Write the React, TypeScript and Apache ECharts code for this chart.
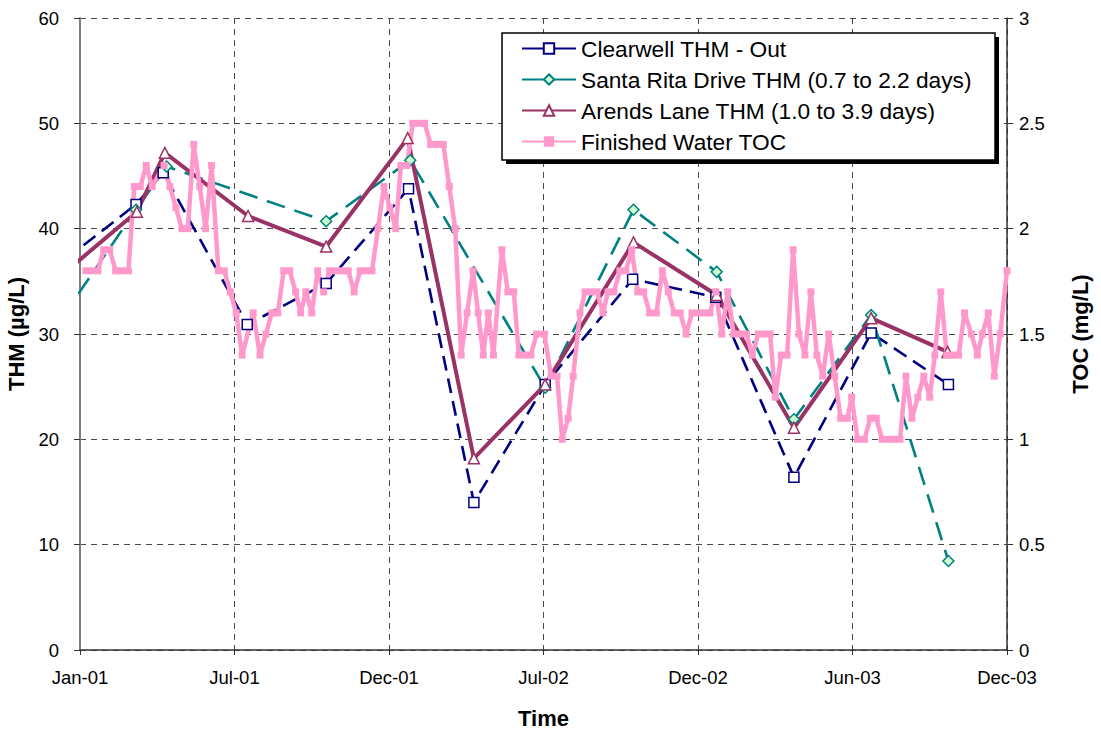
import React, { useEffect, useRef } from "react";
import * as echarts from "echarts";

// ---------- data ----------
// x values are days since 1 Jan 2001
const START_UTC = Date.UTC(2001, 0, 1);
const DAY_MS = 86400000;
const MONTHS = ["Jan", "Feb", "Mar", "Apr", "May", "Jun", "Jul", "Aug", "Sep", "Oct", "Nov", "Dec"];
const xAxisMaxDay = 1092;
const xAxisStepDays = 182;

const clearwellDays = [-60, 66, 98, 197, 290, 387, 464, 548, 651, 749, 841, 932, 1023];
const clearwellTHM = [34.4, 42.3, 45.3, 30.9, 34.8, 43.8, 14.0, 25.2, 35.2, 33.5, 16.4, 30.1, 25.2];

const santaRitaDays = [-60, 66, 102, 290, 389, 548, 652, 750, 841, 932, 1023];
const santaRitaTHM = [27.0, 41.8, 45.9, 40.7, 46.5, 24.9, 41.8, 35.9, 21.9, 31.8, 8.45];

const arendsDays = [-60, 67, 100, 198, 290, 386, 464, 548, 652, 750, 841, 932, 1022];
const arendsTHM = [33.0, 41.6, 47.2, 41.2, 38.3, 48.6, 18.2, 25.2, 38.7, 33.7, 21.1, 31.5, 28.3];

const tocDays = [
  7, 14, 21, 28, 35, 42, 49, 57, 64, 71,
  78, 85, 99, 106, 113, 120, 127, 134, 141, 148,
  155, 163, 170, 177, 184, 191, 204, 212, 219, 226,
  233, 240, 247, 254, 260, 266, 273, 280, 287, 294,
  302, 309, 316, 323, 330, 337, 344, 351, 358, 365,
  372, 378, 385, 392, 399, 406, 413, 421, 428, 435,
  442, 449, 456, 463, 469, 475, 481, 487, 497, 504,
  511, 517, 524, 531, 538, 547, 555, 562, 568, 575,
  581, 589, 595, 602, 609, 616, 622, 629, 636, 643,
  650, 657, 664, 671, 679, 686, 693, 700, 707, 714,
  721, 728, 735, 742, 749, 756, 763, 770, 777, 785,
  792, 799, 806, 813, 819, 826, 833, 840, 847, 854,
  861, 868, 875, 882, 889, 896, 904, 909, 916, 924,
  931, 938, 945, 952, 959, 966, 973, 980, 987, 994,
  1001, 1007, 1014, 1021, 1028, 1035, 1042, 1050, 1057, 1063,
  1070, 1077, 1084, 1092,
];
const tocValues = [
  1.8, 1.8, 1.8, 1.9, 1.9, 1.8, 1.8, 1.8, 2.2, 2.2,
  2.3, 2.2, 2.3, 2.2, 2.1, 2.0, 2.0, 2.4, 2.2, 2.0,
  2.3, 1.8, 1.8, 1.7, 1.6, 1.4, 1.6, 1.4, 1.5, 1.6,
  1.6, 1.8, 1.8, 1.7, 1.6, 1.7, 1.6, 1.8, 1.7, 1.8,
  1.8, 1.8, 1.8, 1.7, 1.8, 1.8, 1.8, 2.0, 2.2, 2.1,
  2.0, 2.3, 2.3, 2.5, 2.5, 2.5, 2.4, 2.4, 2.4, 2.2,
  2.0, 1.4, 1.6, 1.8, 1.6, 1.4, 1.6, 1.4, 1.9, 1.7,
  1.7, 1.4, 1.4, 1.4, 1.5, 1.5, 1.3, 1.3, 1.0, 1.1,
  1.3, 1.6, 1.7, 1.7, 1.7, 1.6, 1.7, 1.7, 1.8, 1.8,
  1.9, 1.7, 1.7, 1.6, 1.6, 1.8, 1.7, 1.6, 1.6, 1.5,
  1.6, 1.6, 1.6, 1.6, 1.7, 1.5, 1.7, 1.5, 1.5, 1.5,
  1.4, 1.5, 1.5, 1.5, 1.2, 1.4, 1.4, 1.9, 1.5, 1.4,
  1.7, 1.4, 1.3, 1.5, 1.3, 1.1, 1.1, 1.2, 1.0, 1.0,
  1.1, 1.1, 1.0, 1.0, 1.0, 1.0, 1.3, 1.1, 1.2, 1.3,
  1.2, 1.4, 1.7, 1.4, 1.4, 1.4, 1.6, 1.5, 1.4, 1.5,
  1.6, 1.3, 1.5, 1.8,
];

const seriesNames = [
  "Clearwell THM - Out",
  "Santa Rita Drive THM (0.7 to 2.2 days)",
  "Arends Lane THM (1.0 to 3.9 days)",
  "Finished Water TOC",
];

// ---------- helpers ----------
const zip = (xs: number[], ys: number[]) => xs.map((x, i) => [x, ys[i]]);
const dayLabel = (v: number) => {
  const d = new Date(START_UTC + v * DAY_MS);
  return `${MONTHS[d.getUTCMonth()]}-${String(d.getUTCFullYear() % 100).padStart(2, "0")}`;
};

const FONT = "'Liberation Sans', Arial, sans-serif";
const gridDash = { color: "#4a4a4a", width: 1, type: [6, 5] as any };

export default function App() {
  const ref = useRef<HTMLDivElement>(null);

  useEffect(() => {
    if (!ref.current) return;
    const chart = echarts.init(ref.current, undefined, { renderer: "svg" });
    const option: any = {
      animation: false,
      backgroundColor: "#ffffff",
      textStyle: { fontFamily: FONT },
      grid: { left: 80, right: 94, top: 18, bottom: 81, containLabel: false, outerBoundsMode: "none" },
      graphic: [
        { type: "rect", z: 3, shape: { x: 506, y: 37, width: 493, height: 127 }, style: { fill: "#000" } },
        { type: "rect", z: 3, shape: { x: 502, y: 33, width: 493, height: 127 }, style: { fill: "#fff", stroke: "#000", lineWidth: 1.5 } },
      ],
      legend: {
        z: 5,
        orient: "vertical",
        left: 503,
        top: 35,
        itemWidth: 54,
        itemHeight: 13,
        itemGap: 8,
        padding: [2, 10, 2, 18],
        data: seriesNames,
        textStyle: { fontSize: 22.7, fontFamily: FONT, color: "#000" },
        lineStyle: { type: "solid" },
      },
      xAxis: {
        type: "value",
        min: 0,
        max: xAxisMaxDay,
        interval: xAxisStepDays,
        name: "Time",
        nameLocation: "middle",
        nameGap: 57,
        nameTextStyle: { fontSize: 22, fontWeight: "bold", color: "#000", fontFamily: FONT },
        axisLine: { show: true, lineStyle: { color: "#333", width: 1.5 } },
        axisTick: { show: true, length: 5, lineStyle: { color: "#333" } },
        axisLabel: {
          formatter: dayLabel,
          fontSize: 18.5,
          color: "#000",
          margin: 18,
          fontFamily: FONT,
          showMinLabel: true,
          showMaxLabel: true,
        },
        splitLine: { show: true, lineStyle: gridDash },
      },
      yAxis: [
        {
          type: "value",
          min: 0,
          max: 60,
          interval: 10,
          position: "left",
          name: "THM (µg/L)",
          nameLocation: "middle",
          nameRotate: 90,
          nameGap: 48,
          nameTextStyle: { fontSize: 22, fontWeight: "bold", color: "#000", fontFamily: FONT },
          axisLine: { show: true, lineStyle: { color: "#808080", width: 2 } },
          axisTick: { show: true, length: 6, lineStyle: { color: "#333" } },
          axisLabel: { fontSize: 18.5, color: "#000", margin: 21, fontFamily: FONT },
          splitLine: { show: true, lineStyle: gridDash },
        },
        {
          type: "value",
          min: 0,
          max: 3,
          interval: 0.5,
          position: "right",
          name: "TOC (mg/L)",
          nameLocation: "middle",
          nameRotate: 90,
          nameGap: 62,
          nameTextStyle: { fontSize: 22, fontWeight: "bold", color: "#000", fontFamily: FONT },
          axisLine: { show: true, lineStyle: { color: "#333", width: 1.5 } },
          axisTick: { show: true, length: 6, lineStyle: { color: "#333" } },
          axisLabel: { fontSize: 18.5, color: "#000", margin: 12, fontFamily: FONT },
          splitLine: { show: false },
        },
      ],
      series: [
        {
          name: seriesNames[0],
          type: "line",
          yAxisIndex: 0,
          data: zip(clearwellDays, clearwellTHM),
          symbol: "rect",
          symbolSize: 10,
          showAllSymbol: true,
          clip: true,
          z: 2,
          lineStyle: { color: "#000080", width: 2.6, type: [15, 8] },
          itemStyle: { color: "#ffffff", borderColor: "#000080", borderWidth: 1.5 },
        },
        {
          name: seriesNames[1],
          type: "line",
          yAxisIndex: 0,
          data: zip(santaRitaDays, santaRitaTHM),
          symbol: "diamond",
          symbolSize: 11,
          showAllSymbol: true,
          clip: true,
          z: 2,
          lineStyle: { color: "#008080", width: 2.6, type: [19, 10] },
          itemStyle: { color: "#CCFFCC", borderColor: "#008080", borderWidth: 1.5 },
        },
        {
          name: seriesNames[2],
          type: "line",
          yAxisIndex: 0,
          data: zip(arendsDays, arendsTHM),
          symbol: "triangle",
          symbolSize: 11,
          showAllSymbol: true,
          clip: true,
          z: 2,
          lineStyle: { color: "#993366", width: 4 },
          itemStyle: { color: "#ffffff", borderColor: "#993366", borderWidth: 1.5 },
        },
        {
          name: seriesNames[3],
          type: "line",
          yAxisIndex: 1,
          data: zip(tocDays, tocValues),
          symbol: "rect",
          symbolSize: 7,
          showAllSymbol: true,
          clip: false,
          z: 2,
          lineStyle: { color: "#FF99CC", width: 4.5 },
          itemStyle: { color: "#FF99CC", borderColor: "#FF99CC", borderWidth: 0 },
        },
      ],
    };
    chart.setOption(option);
    return () => chart.dispose();
  }, []);

  return (
    <div
      ref={ref}
      style={{ position: "fixed", left: 0, top: 0, width: 1101, height: 731, background: "#fff" }}
    />
  );
}
